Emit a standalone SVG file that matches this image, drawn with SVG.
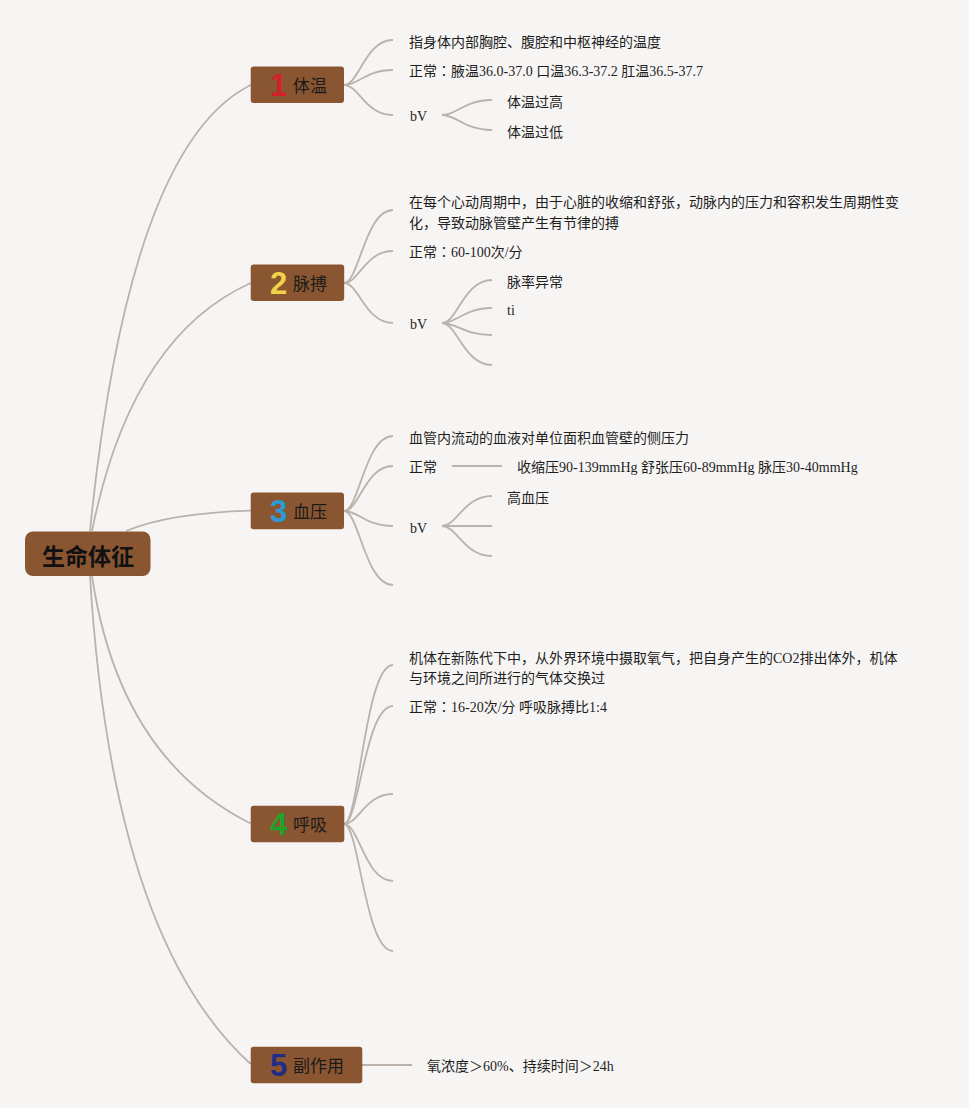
<svg xmlns="http://www.w3.org/2000/svg" width="969" height="1108" viewBox="0 0 969 1108">
<style>
.c{fill:none;stroke:#bab2ab;stroke-width:1.8}
.box{fill:#8a5631}
.t{font-family:"Liberation Serif","Noto Sans CJK SC",serif;font-size:14px;fill:#1e1e1e}
.col{font-family:"Noto Sans CJK JP",sans-serif}
.lbl{font-family:"Noto Sans CJK SC","Noto Sans",sans-serif;font-size:17px;fill:#1a1a1a}
.num{font-family:"Liberation Sans","Noto Sans",sans-serif;font-weight:bold;font-size:31px;text-anchor:middle}
.root{font-family:"Noto Sans CJK SC",sans-serif;font-weight:bold;font-size:23px;fill:#111;text-anchor:middle}
</style>
<rect width="969" height="1108" fill="#f7f5f4"/>
<g id="connectors">
<path class="c" d="M90,531 Q128.5,145.7 250.7,85"/>
<path class="c" d="M92,531 Q131,337 250.7,283"/>
<path class="c" d="M126,531 Q170,513 250.7,510.7"/>
<path class="c" d="M92,576 Q119,758 250.7,823.5"/>
<path class="c" d="M90,576 Q112,939 250.7,1064"/>
<path class="c" d="M344,85 C359,85 365,40 393,40"/>
<path class="c" d="M344,85 C359,85 365,70 393,70"/>
<path class="c" d="M344,85 C359,85 365,115 393,115"/>
<path class="c" d="M442,115 C457,115 464,100 492,100"/>
<path class="c" d="M442,115 C457,115 464,130 492,130"/>
<path class="c" d="M344,283 C359,283 365,210 393,210"/>
<path class="c" d="M344,283 C359,283 365,251 393,251"/>
<path class="c" d="M344,283 C359,283 365,323 393,323"/>
<path class="c" d="M442,323 C457,323 464,280 492,280"/>
<path class="c" d="M442,323 C457,323 464,308 492,308"/>
<path class="c" d="M442,323 C457,323 464,335 492,335"/>
<path class="c" d="M442,323 C457,323 464,365 492,365"/>
<path class="c" d="M344,511 C359,511 365,436 393,436"/>
<path class="c" d="M344,511 C359,511 365,466 393,466"/>
<path class="c" d="M344,511 C359,511 365,526 393,526"/>
<path class="c" d="M344,511 C359,511 365,585 393,585"/>
<path class="c" d="M452,466 L502,466"/>
<path class="c" d="M442,526 C457,526 464,496 492,496"/>
<path class="c" d="M442,526 L492,526"/>
<path class="c" d="M442,526 C457,526 464,556 492,556"/>
<path class="c" d="M344,824 C359,824 365,665 393,665"/>
<path class="c" d="M344,824 C359,824 365,706 393,706"/>
<path class="c" d="M344,824 C359,824 365,794 393,794"/>
<path class="c" d="M344,824 C359,824 365,881 393,881"/>
<path class="c" d="M344,824 C359,824 365,951 393,951"/>
<path class="c" d="M362,1065 L412,1065"/>
</g>
<g id="root">
<rect x="25" y="531.5" width="125.5" height="44.5" rx="8" class="box"/>
<text x="88" y="564.5" class="root">生命体征</text>
</g>
<g id="n1">
<rect x="250.7" y="66.5" width="93.3" height="36.5" rx="3" class="box"/>
<text x="278.5" y="96" class="num" fill="#d4202c">1</text>
<text x="293" y="92" class="lbl">体温</text>
</g>
<g id="n1a"><text x="409" y="46.5" class="t">指身体内部胸腔、腹腔和中枢神经的温度</text></g>
<g id="n1b"><text x="409" y="76" class="t">正常<tspan class="col">：</tspan>腋温36.0-37.0 口温36.3-37.2 肛温36.5-37.7</text></g>
<g id="n1c"><text x="410" y="120.5" class="t">bV</text></g>
<g id="n1c1"><text x="507" y="107" class="t">体温过高</text></g>
<g id="n1c2"><text x="507" y="137" class="t">体温过低</text></g>
<g id="n2">
<rect x="250.7" y="264.5" width="93.5" height="36.5" rx="3" class="box"/>
<text x="278.5" y="294" class="num" fill="#f2d24a">2</text>
<text x="293" y="290" class="lbl">脉搏</text>
</g>
<g id="n2a"><text x="409" y="207" class="t">在每个心动周期中，由于心脏的收缩和舒张，动脉内的压力和容积发生周期性变</text><text x="409" y="227.5" class="t">化，导致动脉管壁产生有节律的搏</text></g>
<g id="n2b"><text x="409" y="257" class="t">正常<tspan class="col">：</tspan>60-100次/分</text></g>
<g id="n2c"><text x="410" y="329" class="t">bV</text></g>
<g id="n2c1"><text x="507" y="287" class="t">脉率异常</text></g>
<g id="n2c2"><text x="507" y="314.5" class="t">ti</text></g>
<g id="n3">
<rect x="250.7" y="492.5" width="93.3" height="36.8" rx="3" class="box"/>
<text x="278.5" y="522" class="num" fill="#2b9bd8">3</text>
<text x="293" y="518" class="lbl">血压</text>
</g>
<g id="n3a"><text x="409" y="443" class="t">血管内流动的血液对单位面积血管壁的侧压力</text></g>
<g id="n3b"><text x="409" y="472" class="t">正常</text></g>
<g id="n3b1"><text x="517" y="472" class="t">收缩压90-139mmHg 舒张压60-89mmHg 脉压30-40mmHg</text></g>
<g id="n3c"><text x="410" y="532.5" class="t">bV</text></g>
<g id="n3c1"><text x="507" y="503" class="t">高血压</text></g>
<g id="n4">
<rect x="250.7" y="805.7" width="93.6" height="36.6" rx="3" class="box"/>
<text x="278.5" y="835" class="num" fill="#23a02c">4</text>
<text x="293" y="831" class="lbl">呼吸</text>
</g>
<g id="n4a"><text x="409" y="663" class="t">机体在新陈代下中，从外界环境中摄取氧气，把自身产生的CO2排出体外，机体</text><text x="409" y="683" class="t">与环境之间所进行的气体交换过</text></g>
<g id="n4b"><text x="409" y="712" class="t">正常<tspan class="col">：</tspan>16-20次/分 呼吸脉搏比1:4</text></g>
<g id="n5">
<rect x="250.7" y="1046.7" width="111.6" height="36.6" rx="3" class="box"/>
<text x="278.5" y="1076" class="num" fill="#1f2d86">5</text>
<text x="293" y="1072" class="lbl">副作用</text>
</g>
<g id="n5a"><text x="427" y="1071" class="t">氧浓度＞60%、持续时间＞24h</text></g>
</svg>
